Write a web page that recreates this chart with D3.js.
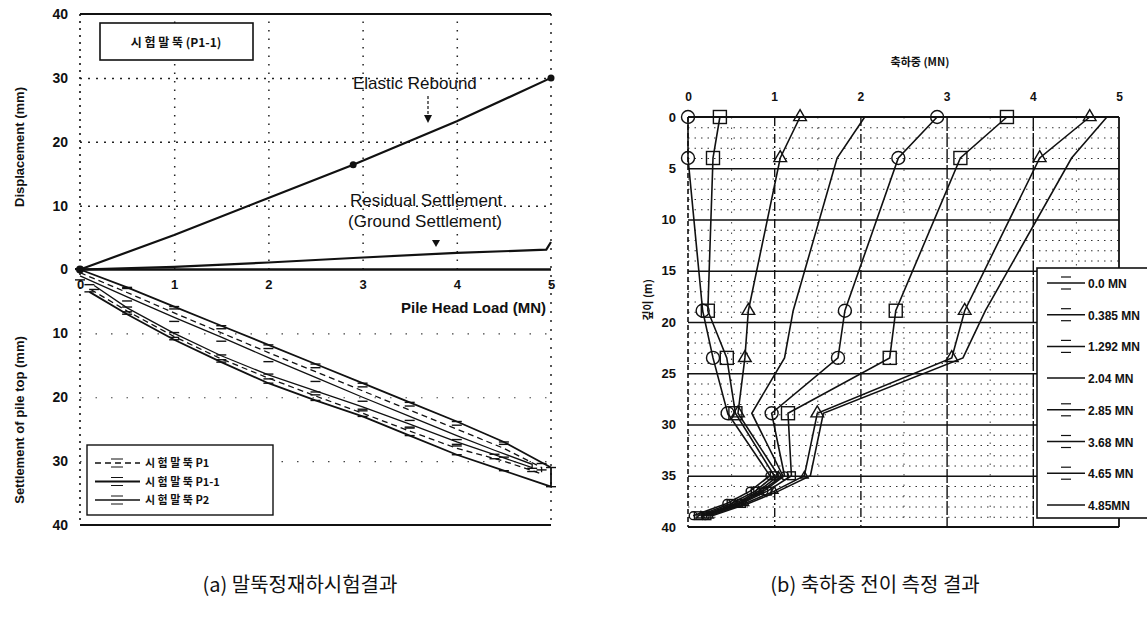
<!DOCTYPE html>
<html>
<head>
<meta charset="utf-8">
<script src="https://cdn.jsdelivr.net/npm/d3@7"></script>
<style>
  body { margin: 0; background: white; }
  text { font-family: "Liberation Sans", Arial, sans-serif; fill: #111; }
  .kr { font-family: "Noto Sans CJK KR", sans-serif; }
</style>
</head>
<body>
<script>
// ---------- data : panel (a) pile head load test ----------
let loadTicks = [0, 1, 2, 3, 4, 5];
let dispTicks = [-40, -30, -20, -10, 0, 10, 20, 30, 40];

// upper graph (displacement, mm)
let elasticLoad = [0, 1, 2, 2.9, 4, 5];
let elasticDisp = [0, 5.4, 11.2, 16.4, 23.2, 30];
let elasticDots = [2.9, 5];
let residualLoad = [0, 1, 2, 2.9, 4, 4.95, 5];
let residualDisp = [0, 0.4, 1.1, 1.8, 2.6, 3.1, 4.3];

// lower graph (settlement of pile top, mm) : loading then unloading
let p1Load = [0, 0.5, 1, 1.5, 2, 2.5, 3, 3.5, 4, 4.5, 4.9, 4.9, 4.5, 4, 3.5, 3, 2.5, 2, 1.5, 1, 0.5, 0.1];
let p1Settle = [0.5, 3.6, 6.8, 9.9, 13, 16, 19, 22, 25, 28, 31, 32, 30, 28, 25.3, 22.5, 19.8, 17, 14, 10.5, 6.5, 3];
let p11Load = [0, 0.5, 1, 1.5, 2, 2.5, 3, 3.5, 4, 4.5, 5, 5, 4.5, 4, 3.5, 3, 2.5, 2, 1.5, 1, 0.5, 0.1];
let p11Settle = [0, 2.8, 5.8, 8.8, 11.8, 14.8, 17.8, 20.8, 23.8, 27, 31, 34, 31.5, 29, 26, 23, 20.5, 17.8, 14.5, 11, 7, 3.5];
let p2Load = [0, 0.5, 1, 1.5, 2, 2.5, 3, 3.5, 4, 4.4, 4.8, 4.8, 4.4, 4, 3.5, 3, 2.5, 2, 1.5, 1, 0.5, 0.15];
let p2Settle = [1, 4.3, 7.5, 10.6, 13.8, 16.9, 20, 23, 26, 28.3, 30.5, 31, 29, 27, 24.2, 21.5, 19, 16.5, 13.5, 10, 6, 2.5];
let aLegend = ["시 험 말 뚝   P1", "시 험 말 뚝   P1-1", "시 험 말 뚝   P2"];

// ---------- data : panel (b) axial load transfer ----------
let axialTicks = [0, 1, 2, 3, 4, 5];
let depthTicks = [0, 5, 10, 15, 20, 25, 30, 35, 40];
let depths = [0, 4, 18.9, 23.5, 28.9, 35, 36.5, 37.7, 38.9];
let bNames = ["0.0 MN", "0.385 MN", "1.292 MN", "2.04 MN", "2.85 MN", "3.68 MN", "4.65 MN", "4.85MN"];
let s000 = [0, 0, 0.17, 0.29, 0.46, 0.95, 0.72, 0.45, 0.06];
let s0385 = [0.37, 0.29, 0.23, 0.45, 0.55, 1.0, 0.78, 0.5, 0.12];
let s1292 = [1.30, 1.07, 0.70, 0.66, 0.58, 1.05, 0.82, 0.55, 0.15];
let s204 = [2.05, 1.73, 1.22, 1.12, 0.74, 1.1, 0.85, 0.58, 0.18];
let s285 = [2.89, 2.44, 1.82, 1.74, 0.97, 1.12, 0.88, 0.6, 0.2];
let s368 = [3.70, 3.16, 2.41, 2.34, 1.16, 1.2, 0.92, 0.62, 0.22];
let s465 = [4.66, 4.08, 3.21, 3.06, 1.50, 1.35, 1.0, 0.66, 0.25];
let s485 = [4.86, 4.45, 3.45, 3.19, 1.57, 1.42, 1.05, 0.7, 0.28];
let bSeries = [s000, s0385, s1292, s204, s285, s368, s465, s485];
let bMarkers = ["circle", "square", "triangle", "none", "circle", "square", "triangle", "none"];

let svg = d3.select("body").append("svg")
  .attr("width", 1147).attr("height", 618)
  .style("background-color", "white");

// =================== panel (a) ===================
let xa = d3.scaleLinear().domain([0, 5]).range([80, 551]);
let ya = d3.scaleLinear().domain([-40, 40]).range([525, 14]);
let ga = svg.append("g");

// dotted grid, upper part
ga.append("g").attr("transform", "translate(0," + ya(0) + ")")
  .call(d3.axisBottom(xa).tickValues([1, 2, 3, 4]).tickSize(-(ya(0) - ya(40))).tickFormat(""))
  .call(g => g.select(".domain").remove())
  .selectAll("line").attr("stroke", "#222").attr("stroke-dasharray", "1.5,7").attr("stroke-width", 1.5);
ga.append("g").attr("transform", "translate(" + xa(0) + ",0)")
  .call(d3.axisLeft(ya).tickValues([10, 20, 30]).tickSize(-(xa(5) - xa(0))).tickFormat(""))
  .call(g => g.select(".domain").remove())
  .selectAll("line").attr("stroke", "#222").attr("stroke-dasharray", "2,6").attr("stroke-width", 1.5);
// sparse grid, lower part (faded in scan)
ga.append("g").attr("transform", "translate(" + xa(0) + ",0)")
  .call(d3.axisLeft(ya).tickValues([-10, -20, -30]).tickSize(-(xa(5) - xa(0))).tickFormat(""))
  .call(g => g.select(".domain").remove())
  .selectAll("line").attr("stroke", "#444").attr("stroke-dasharray", "1.5,14").attr("stroke-width", 1.2);

// frame
ga.append("line").attr("x1", xa(0)).attr("x2", xa(5)).attr("y1", ya(40)).attr("y2", ya(40)).attr("stroke", "#111").attr("stroke-width", 2.2);
ga.append("line").attr("x1", xa(0)).attr("x2", xa(5)).attr("y1", ya(-40)).attr("y2", ya(-40)).attr("stroke", "#111").attr("stroke-width", 2.2);
ga.append("line").attr("x1", xa(0)).attr("x2", xa(5)).attr("y1", ya(0)).attr("y2", ya(0)).attr("stroke", "#111").attr("stroke-width", 2.4);
ga.append("line").attr("x1", xa(0)).attr("x2", xa(0)).attr("y1", ya(40)).attr("y2", ya(-40)).attr("stroke", "#111").attr("stroke-dasharray", "2,5").attr("stroke-width", 1.6);
ga.append("line").attr("x1", xa(5)).attr("x2", xa(5)).attr("y1", ya(40)).attr("y2", ya(-40)).attr("stroke", "#111").attr("stroke-dasharray", "2,7").attr("stroke-width", 1.4);

// tick labels
ga.append("g").attr("transform", "translate(" + xa(0) + ",0)")
  .call(d3.axisLeft(ya).tickValues(dispTicks).tickSize(0).tickPadding(12).tickFormat(d => Math.abs(d)))
  .call(g => g.select(".domain").remove())
  .selectAll("text").style("font-size", "14px").style("font-weight", "bold");
ga.append("g").attr("transform", "translate(0," + ya(0) + ")")
  .call(d3.axisBottom(xa).tickValues(loadTicks).tickSize(0).tickPadding(10).tickFormat(d3.format("d")))
  .call(g => g.select(".domain").remove())
  .selectAll("text").style("font-size", "13px").style("font-weight", "bold");

// axis titles
ga.append("text").attr("transform", "translate(24,147) rotate(-90)").attr("text-anchor", "middle")
  .style("font-size", "13px").style("font-weight", "bold").text("Displacement (mm)");
ga.append("text").attr("transform", "translate(24,420) rotate(-90)").attr("text-anchor", "middle")
  .style("font-size", "13px").style("font-weight", "bold").text("Settlement of pile top (mm)");
ga.append("text").attr("x", 546).attr("y", 313).attr("text-anchor", "end")
  .style("font-size", "15px").style("font-weight", "bold").text("Pile Head Load (MN)");

// upper lines
let lineA = d3.line().x(d => xa(d[0])).y(d => ya(d[1]));
ga.append("path").datum(d3.zip(elasticLoad, elasticDisp)).attr("d", lineA)
  .attr("fill", "none").attr("stroke", "#111").attr("stroke-width", 2.2);
ga.append("path").datum(d3.zip(residualLoad, residualDisp)).attr("d", lineA)
  .attr("fill", "none").attr("stroke", "#111").attr("stroke-width", 2.2);
ga.selectAll(".edot").data(elasticDots).enter().append("circle")
  .attr("cx", d => xa(d)).attr("cy", d => ya(elasticDisp[elasticLoad.indexOf(d)]))
  .attr("r", 3.5).attr("fill", "#111");
ga.append("circle").attr("cx", xa(0)).attr("cy", ya(0)).attr("r", 4).attr("fill", "#111");

// annotations
ga.append("text").attr("x", 353).attr("y", 89).style("font-size", "17px").text("Elastic Rebound");
ga.append("line").attr("x1", 428).attr("x2", 428).attr("y1", 96).attr("y2", 120).attr("stroke", "#111").attr("stroke-width", 1.2).attr("stroke-dasharray", "3,2");
ga.append("path").attr("d", "M424,115 L428,123 L432,115 Z").attr("fill", "#111");
ga.append("text").attr("x", 350).attr("y", 206).style("font-size", "17px").text("Residual Settlement");
ga.append("text").attr("x", 348).attr("y", 227).style("font-size", "17px").text("(Ground Settlement)");
ga.append("path").attr("d", "M432,240 L436,247 L440,240 Z").attr("fill", "#111");

// P1-1 label box
ga.append("rect").attr("x", 100).attr("y", 23).attr("width", 153).attr("height", 37)
  .attr("fill", "white").attr("stroke", "#111").attr("stroke-width", 1.6);
ga.append("text").attr("class", "kr").attr("x", 176).attr("y", 47).attr("text-anchor", "middle")
  .style("font-size", "12px").style("font-weight", "bold").text("시 험 말 뚝  (P1-1)");

// lower curves
let aSeries = [
  { load: p1Load, settle: p1Settle, dash: "6,4", width: 1.3 },
  { load: p11Load, settle: p11Settle, dash: null, width: 1.8 },
  { load: p2Load, settle: p2Settle, dash: null, width: 1.3 }
];
aSeries.forEach(function (s, i) {
  let pts = d3.zip(s.load, s.settle.map(v => -v));
  ga.append("path").datum(pts).attr("d", lineA).attr("fill", "none")
    .attr("stroke", "#111").attr("stroke-width", s.width).attr("stroke-dasharray", s.dash);
  // small dash markers along curve
  ga.selectAll(".mk" + i).data(pts).enter().append("line")
    .attr("x1", d => xa(d[0]) - 5).attr("x2", d => xa(d[0]) + 5)
    .attr("y1", d => ya(d[1]) + (i - 1) * 4).attr("y2", d => ya(d[1]) + (i - 1) * 4)
    .attr("stroke", "#111").attr("stroke-width", 1.4);
});

// lower legend
ga.append("rect").attr("x", 87).attr("y", 445).attr("width", 186).attr("height", 70)
  .attr("fill", "white").attr("stroke", "#111").attr("stroke-width", 1.4);
aLegend.forEach(function (t, i) {
  let yy = 463 + i * 18.5;
  ga.append("line").attr("x1", 95).attr("x2", 140).attr("y1", yy).attr("y2", yy)
    .attr("stroke", "#111").attr("stroke-width", aSeries[i].width).attr("stroke-dasharray", aSeries[i].dash);
  ga.append("line").attr("x1", 111).attr("x2", 123).attr("y1", yy - 4).attr("y2", yy - 4).attr("stroke", "#111");
  ga.append("line").attr("x1", 111).attr("x2", 123).attr("y1", yy + 4).attr("y2", yy + 4).attr("stroke", "#111");
  ga.append("text").attr("class", "kr").attr("x", 145).attr("y", yy + 4)
    .style("font-size", "11px").style("font-weight", "bold").text(t);
});

// =================== panel (b) ===================
let xb = d3.scaleLinear().domain([0, 5]).range([688, 1119]);
let yb = d3.scaleLinear().domain([0, 40]).range([117, 527]);
let gb = svg.append("g");

// minor dotted grid
gb.append("g").attr("transform", "translate(" + xb(0) + ",0)")
  .call(d3.axisLeft(yb).tickValues(d3.range(1, 40).filter(d => d % 5 !== 0)).tickSize(-(xb(5) - xb(0))).tickFormat(""))
  .call(g => g.select(".domain").remove())
  .selectAll("line").attr("stroke", "#333").attr("stroke-dasharray", "1.5,5").attr("stroke-width", 1);
gb.append("g").attr("transform", "translate(0," + yb(0) + ")")
  .call(d3.axisTop(xb).tickValues([0.5, 1.5, 2.5, 3.5, 4.5]).tickSize(-(yb(40) - yb(0))).tickFormat(""))
  .call(g => g.select(".domain").remove())
  .selectAll("line").attr("stroke", "#444").attr("stroke-dasharray", "1.5,9").attr("stroke-width", 1);
// major grid
gb.append("g").attr("transform", "translate(" + xb(0) + ",0)")
  .call(d3.axisLeft(yb).tickValues([5, 10, 15, 20, 25, 30, 35]).tickSize(-(xb(5) - xb(0))).tickFormat(""))
  .call(g => g.select(".domain").remove())
  .selectAll("line").attr("stroke", "#111").attr("stroke-width", 1.6);
gb.append("g").attr("transform", "translate(0," + yb(0) + ")")
  .call(d3.axisTop(xb).tickValues([1, 2]).tickSize(-(yb(40) - yb(0))).tickFormat(""))
  .call(g => g.select(".domain").remove())
  .selectAll("line").attr("stroke", "#111").attr("stroke-dasharray", "9,3,2,3").attr("stroke-width", 1.4);
gb.append("g").attr("transform", "translate(0," + yb(0) + ")")
  .call(d3.axisTop(xb).tickValues([3, 4]).tickSize(-(yb(40) - yb(0))).tickFormat(""))
  .call(g => g.select(".domain").remove())
  .selectAll("line").attr("stroke", "#111").attr("stroke-dasharray", "14,2").attr("stroke-width", 1.4);

// frame
gb.append("line").attr("x1", xb(0)).attr("x2", xb(5)).attr("y1", yb(0)).attr("y2", yb(0)).attr("stroke", "#111").attr("stroke-width", 2.2);
gb.append("line").attr("x1", xb(0)).attr("x2", xb(5)).attr("y1", yb(40)).attr("y2", yb(40)).attr("stroke", "#111").attr("stroke-width", 2.2);
gb.append("line").attr("x1", xb(0)).attr("x2", xb(0)).attr("y1", yb(0)).attr("y2", yb(40)).attr("stroke", "#111").attr("stroke-dasharray", "5,3").attr("stroke-width", 1.6);
gb.append("line").attr("x1", xb(5)).attr("x2", xb(5)).attr("y1", yb(0)).attr("y2", yb(40)).attr("stroke", "#111").attr("stroke-width", 1.8);

// tick labels
gb.append("g").attr("transform", "translate(" + xb(0) + ",0)")
  .call(d3.axisLeft(yb).tickValues(depthTicks).tickSize(0).tickPadding(12))
  .call(g => g.select(".domain").remove())
  .selectAll("text").style("font-size", "13px").style("font-weight", "bold");
gb.append("g").attr("transform", "translate(0,92)")
  .call(d3.axisTop(xb).tickValues(axialTicks).tickSize(0).tickPadding(0).tickFormat(d3.format("d")))
  .call(g => g.select(".domain").remove())
  .selectAll("text").attr("dy", "0.71em").style("font-size", "12px").style("font-weight", "bold");
gb.append("text").attr("class", "kr").attr("x", 920).attr("y", 66).attr("text-anchor", "middle")
  .style("font-size", "11px").style("font-weight", "bold").text("축하중 (MN)");
gb.append("text").attr("class", "kr").attr("transform", "translate(652,300) rotate(-90)").attr("text-anchor", "middle")
  .style("font-size", "11px").style("font-weight", "bold").text("깊이 (m)");

// markers
function drawMarker(g, type, x, y, k) {
  if (type === "circle") {
    g.append("circle").attr("cx", x).attr("cy", y).attr("r", 6.5 * k).attr("fill", "none").attr("stroke", "#111").attr("stroke-width", 1.4);
  } else if (type === "square") {
    g.append("rect").attr("x", x - 6.5 * k).attr("y", y - 6.5 * k).attr("width", 13 * k).attr("height", 13 * k).attr("fill", "none").attr("stroke", "#111").attr("stroke-width", 1.4);
  } else if (type === "triangle") {
    g.append("path").attr("transform", "translate(" + x + "," + y + ")")
      .attr("d", d3.symbol().type(d3.symbolTriangle).size(70 * k * k)).attr("fill", "none").attr("stroke", "#111").attr("stroke-width", 1.4);
  }
}

let lineB = d3.line().x(d => xb(d[0])).y(d => yb(d[1]));
bSeries.forEach(function (vals, i) {
  let pts = d3.zip(vals, depths);
  gb.append("path").datum(pts).attr("d", lineB).attr("fill", "none").attr("stroke", "#111").attr("stroke-width", 1.6);
  pts.forEach(function (p, j) {
    drawMarker(gb, bMarkers[i], xb(p[0]), yb(p[1]), j < 5 ? 1 : 0.6);
  });
});

// legend (b)
gb.append("rect").attr("x", 1037).attr("y", 268).attr("width", 112).attr("height", 250)
  .attr("fill", "white").attr("stroke", "#111").attr("stroke-width", 1.6);
bNames.forEach(function (t, i) {
  let yy = 283 + i * 31.7;
  gb.append("line").attr("x1", 1047).attr("x2", 1085).attr("y1", yy).attr("y2", yy).attr("stroke", "#111").attr("stroke-width", 1.5);
  if (bMarkers[i] !== "none") {
    gb.append("line").attr("x1", 1061).attr("x2", 1071).attr("y1", yy - 6).attr("y2", yy - 6).attr("stroke", "#111").attr("stroke-width", 1.2);
    gb.append("line").attr("x1", 1061).attr("x2", 1071).attr("y1", yy + 6).attr("y2", yy + 6).attr("stroke", "#111").attr("stroke-width", 1.2);
  }
  gb.append("text").attr("x", 1088).attr("y", yy + 5).style("font-size", "12px").style("font-weight", "bold").text(t);
});

// captions
svg.append("text").attr("class", "kr").attr("x", 300).attr("y", 592).attr("text-anchor", "middle")
  .style("font-size", "20px").text("(a) 말뚝정재하시험결과");
svg.append("text").attr("class", "kr").attr("x", 875).attr("y", 592).attr("text-anchor", "middle")
  .style("font-size", "20px").text("(b) 축하중 전이 측정 결과");
</script>
</body>
</html>
